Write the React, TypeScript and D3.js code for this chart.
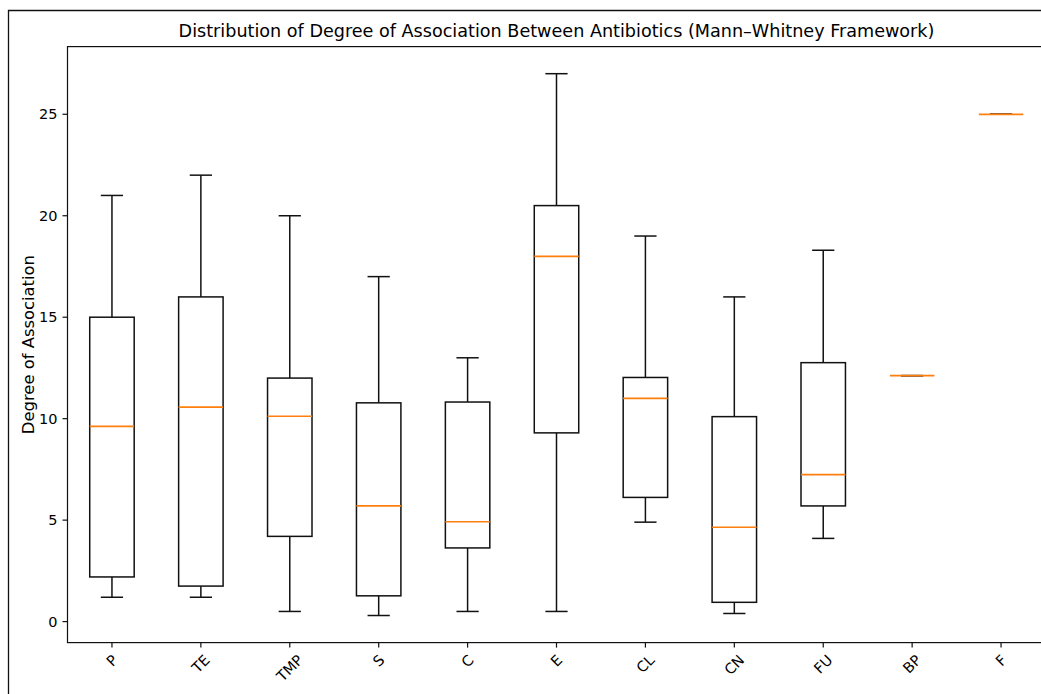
import React, { useEffect, useRef } from "react";
import * as d3 from "d3";

const categories = ["P", "TE", "TMP", "S", "C", "E", "CL", "CN", "FU", "BP", "F"];
const whiskerLow = [1.2, 1.2, 0.5, 0.3, 0.5, 0.5, 4.9, 0.4, 4.1, 12.12, 25.0];
const q1 = [2.2, 1.75, 4.2, 1.27, 3.63, 9.3, 6.12, 0.95, 5.7, 12.12, 25.0];
const medians = [9.62, 10.57, 10.12, 5.7, 4.92, 18.0, 11.0, 4.65, 7.24, 12.12, 25.0];
const q3 = [15.0, 16.0, 12.0, 10.78, 10.82, 20.5, 12.03, 10.1, 12.76, 12.12, 25.0];
const whiskerHigh = [21.0, 22.0, 20.0, 17.0, 13.0, 27.0, 19.0, 16.0, 18.3, 12.12, 25.0];
const yTicks = [0, 5, 10, 15, 20, 25];

const TITLE = "Distribution of Degree of Association Between Antibiotics (Mann–Whitney Framework)";
const Y_LABEL = "Degree of Association";

export default function App() {
  const ref = useRef<SVGSVGElement | null>(null);

  useEffect(() => {
    const svg = d3.select(ref.current);
    svg.selectAll("*").remove();
    const font = "DejaVu Sans, sans-serif";
    const fsTitle = 17.6;
    const fs = 14.5;
    const fsLabel = 16.4;

    const left = 67.5, right = 1045.5, top = 46.6, bottom = 642.6;
    const dataMin = d3.min(whiskerLow) as number;
    const dataMax = d3.max(whiskerHigh) as number;
    const pad = (dataMax - dataMin) * 0.05;
    const y = d3.scaleLinear().domain([dataMin - pad, dataMax + pad]).range([bottom, top]);
    const x = d3.scaleLinear().domain([0.5, categories.length + 0.5]).range([left, right]);
    const boxW = x(1.5) - x(1);
    const capW = boxW / 2;

    svg.append("path").attr("d", "M8.5,694 V10.5 H1041").attr("fill", "none").attr("stroke", "#111").attr("stroke-width", 1.3);

    svg.append("text").attr("x", (left + right) / 2).attr("y", 37).attr("text-anchor", "middle")
      .attr("font-family", font).attr("font-size", fsTitle).attr("fill", "#000").text(TITLE);

    const g = svg.append("g");
    categories.forEach((c, i) => {
      const cx = x(i + 1);
      const stroke = "#111";
      const sw = 1.5;
      g.append("line").attr("x1", cx).attr("x2", cx).attr("y1", y(q3[i])).attr("y2", y(whiskerHigh[i])).attr("stroke", stroke).attr("stroke-width", sw);
      g.append("line").attr("x1", cx).attr("x2", cx).attr("y1", y(q1[i])).attr("y2", y(whiskerLow[i])).attr("stroke", stroke).attr("stroke-width", sw);
      g.append("line").attr("x1", cx - capW / 2).attr("x2", cx + capW / 2).attr("y1", y(whiskerHigh[i])).attr("y2", y(whiskerHigh[i])).attr("stroke", stroke).attr("stroke-width", sw);
      g.append("line").attr("x1", cx - capW / 2).attr("x2", cx + capW / 2).attr("y1", y(whiskerLow[i])).attr("y2", y(whiskerLow[i])).attr("stroke", stroke).attr("stroke-width", sw);
      g.append("rect").attr("x", cx - boxW / 2).attr("y", y(q3[i])).attr("width", boxW)
        .attr("height", Math.max(0, y(q1[i]) - y(q3[i]))).attr("fill", "none").attr("stroke", stroke).attr("stroke-width", sw);
      g.append("line").attr("x1", cx - boxW / 2).attr("x2", cx + boxW / 2).attr("y1", y(medians[i])).attr("y2", y(medians[i]))
        .attr("stroke", "#ff7f0e").attr("stroke-width", 1.7);
    });

    const axisColor = "#111";
    svg.append("rect").attr("x", left).attr("y", top).attr("width", right - left).attr("height", bottom - top)
      .attr("fill", "none").attr("stroke", axisColor).attr("stroke-width", 1.2);

    yTicks.forEach((t) => {
      const yy = y(t);
      svg.append("line").attr("x1", left - 5).attr("x2", left).attr("y1", yy).attr("y2", yy).attr("stroke", axisColor).attr("stroke-width", 1.2);
      svg.append("text").attr("x", left - 10).attr("y", yy).attr("dy", "0.36em").attr("text-anchor", "end")
        .attr("font-family", font).attr("font-size", fs).attr("fill", "#000").text(String(t));
    });

    categories.forEach((c, i) => {
      const cx = x(i + 1);
      svg.append("line").attr("x1", cx).attr("x2", cx).attr("y1", bottom).attr("y2", bottom + 5).attr("stroke", axisColor).attr("stroke-width", 1.2);
      const t = svg.append("text").attr("font-family", font).attr("font-size", fs).attr("fill", "#000")
        .attr("text-anchor", "middle").attr("dominant-baseline", "central").text(c);
      const w = (t.node() as SVGTextElement).getComputedTextLength();
      const h = fs * 0.95;
      const side = (w + h) / Math.SQRT2;
      const cy = bottom + 5 + 5 + side / 2;
      t.attr("transform", `translate(${cx},${cy}) rotate(-45)`);
    });

    svg.append("text").attr("transform", `translate(28,${(top + bottom) / 2}) rotate(-90)`)
      .attr("text-anchor", "middle").attr("dominant-baseline", "central")
      .attr("font-family", font).attr("font-size", fsLabel).attr("fill", "#000").text(Y_LABEL);
  }, []);

  return (
    <svg ref={ref} width={1041} height={694}
      style={{ position: "absolute", left: 0, top: 0, background: "#fff", display: "block" }} />
  );
}
